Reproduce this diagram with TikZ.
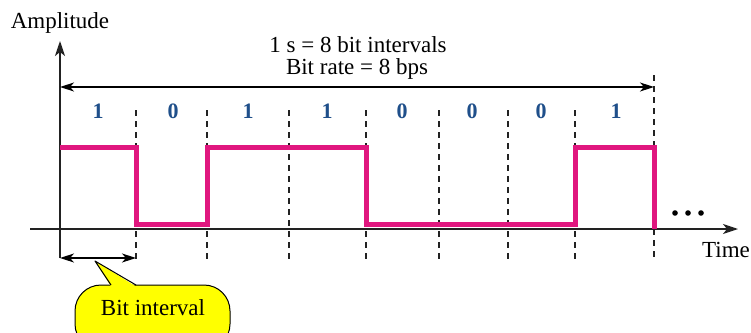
\documentclass[tikz,border=0pt]{standalone}
\usepackage{fontspec}
\setmainfont{Liberation Serif}
\usetikzlibrary{arrows.meta,calc}
\definecolor{sigpink}{HTML}{E0177F}
\definecolor{bitblue}{HTML}{1F4F8A}
\definecolor{axisgray}{HTML}{222222}
\definecolor{noteyellow}{HTML}{FFFF00}

\begin{document}
\begin{tikzpicture}[x=1pt,y=-1pt,
  txt/.style={inner sep=0pt,font=\fontsize{23}{26}\selectfont},
  bitlabel/.style={inner sep=0pt,text=bitblue,font=\fontsize{22}{25}\selectfont\bfseries},
  axisline/.style={draw=axisgray,line width=1.5pt},
  tick/.style={draw=axisgray,line width=1.3pt,dash pattern=on 6pt off 5pt},
  signal/.style={draw=sigpink,line width=5pt,line join=miter},
  tip/.style={-{Stealth[length=15pt,width=10pt,inset=4pt]}},
  twotip/.style={{Stealth[length=14pt,width=9pt,inset=4pt]}-{Stealth[length=14pt,width=9pt,inset=4pt]}}]
\useasboundingbox (0,0) rectangle (751,332);
\fill[white] (0,0) rectangle (751,332);

% bit boundaries along the time axis
\foreach \n/\x in {0/60,1/136,2/207,3/289,4/366,5/439,6/508,7/575,8/654}{
  \coordinate (t\n) at (\x,110);
  \coordinate (b\n) at (\x,259);
  \coordinate (hi\n) at (\x,147);
  \coordinate (lo\n) at (\x,224.5);
}
\coordinate (t8) at (654,75);

% dashed interval markers
\foreach \n in {1,...,8}{
  \draw[tick] (t\n) -- (b\n);
}

% axes
\coordinate (xstart) at (30,229);
\coordinate (xend) at (738,229);
\coordinate (ybottom) at (60,258);
\coordinate (ytop) at (60,41);
\draw[axisline,tip] (xstart) -- (xend);
\draw[axisline,tip] (ybottom) -- (ytop);

% the signal 1 0 1 1 0 0 0 1
\draw[signal] (hi0) -- (hi1) -- (lo1) -- (lo2) -- (hi2) -- (hi4) -- (lo4)
  -- (lo7) -- (hi7) -- (hi8) -- (hi8 |- xend);

% bit values
\foreach \n/\x/\b in {0/98/1,1/173/0,2/248/1,3/327/1,4/402/0,5/472/0,6/541/0,7/616/1}{
  \node[bitlabel] (bit\n) at (\x,111) {\b};
}

% one-second span
\coordinate (sl) at (60,87);
\coordinate (sr) at (654,87);
\draw[line width=1.3pt,twotip] (sl) -- (sr);
\node[txt] (span1) at (358,45) {1 s = 8 bit intervals};
\node[txt] (span2) at (357,69) {Bit rate = 8 bps};

% axis labels
\node[txt] (amp) at (60,23) {Amplitude};
\node[txt] (time) at (726,250) {Time};

% continuation dots
\foreach \x in {675,688,701}{
  \fill (\x,213) circle (2.8pt);
}

% one bit interval
\coordinate (il) at (60,258);
\coordinate (ir) at (136,258);
\draw[line width=1.3pt,twotip] (il) -- (ir);

% callout
\filldraw[fill=noteyellow,draw=black,line width=1pt,rounded corners=26pt]
  (75,285) rectangle (230,350);
\coordinate (ptr) at (95,261);
\coordinate (pl) at (111,285);
\coordinate (pr) at (136,285);
\fill[noteyellow] (ptr) -- ($(pl)+(0,1.5)$) -- ($(pr)+(0,1.5)$) -- cycle;
\draw[line width=1pt,line join=round] (pl) -- (ptr) -- (pr);
\node[txt] (note) at (153,308) {Bit interval};
\end{tikzpicture}
\end{document}
